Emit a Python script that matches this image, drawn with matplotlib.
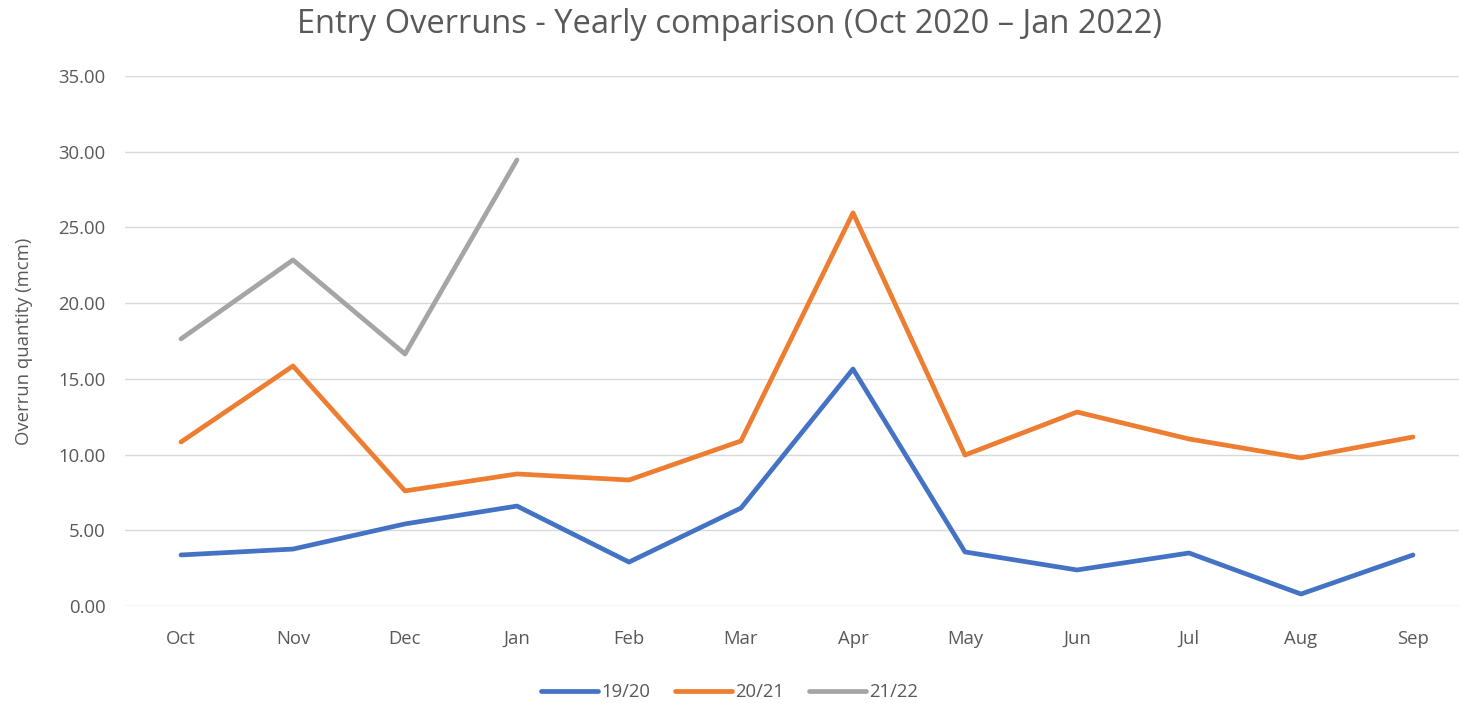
import matplotlib
matplotlib.use("Agg")
import matplotlib.pyplot as plt
from matplotlib.ticker import FormatStrFormatter

months = ["Oct", "Nov", "Dec", "Jan", "Feb", "Mar", "Apr", "May", "Jun", "Jul", "Aug", "Sep"]
y1920 = [3.37, 3.76, 5.42, 6.60, 2.90, 6.47, 15.65, 3.57, 2.38, 3.50, 0.79, 3.37]
y2021 = [10.83, 15.85, 7.60, 8.72, 8.32, 10.90, 25.96, 9.97, 12.81, 11.03, 9.78, 11.16]
y2122 = [17.64, 22.85, 16.64, 29.46]
series_names = ["19/20", "20/21", "21/22"]
colors = ["#4472C4", "#ED7D31", "#A5A5A5"]

text_col = "#595959"
plt.rcParams["font.family"] = ["Open Sans", "DejaVu Sans"]

fig = plt.figure(figsize=(14.59, 7.03), dpi=100)
ax = fig.add_axes([125 / 1459, 97 / 703, 1344 / 1459, 530 / 703])

x = list(range(len(months)))
for vals, name, col in zip([y1920, y2021, y2122], series_names, colors):
    ax.plot(x[:len(vals)], vals, color=col, lw=3.4, label=name,
            solid_joinstyle="round", solid_capstyle="round")

ax.set_xlim(-0.5, 11.5)
ax.set_ylim(0, 35)
ax.set_yticks([0, 5, 10, 15, 20, 25, 30, 35])
ax.yaxis.set_major_formatter(FormatStrFormatter("%.2f"))
ax.set_xticks(x)
ax.set_xticklabels(months)
ax.grid(axis="y", color="#D9D9D9", lw=1)
ax.set_axisbelow(True)
for s in ax.spines.values():
    s.set_visible(False)
ax.tick_params(length=0, labelsize=13.3, colors=text_col)
ax.tick_params(axis="x", pad=17)
ax.tick_params(axis="y", pad=14)
ax.set_ylabel("Overrun quantity (mcm)", fontsize=13.3, color=text_col, labelpad=18)

fig.suptitle("Entry Overruns - Yearly comparison (Oct 2020 \u2013 Jan 2022)",
             fontsize=23.5, color=text_col, y=0.988)
fig.legend(loc="lower center", ncol=3, frameon=False, fontsize=13.3,
           labelcolor=text_col, bbox_to_anchor=(0.5, -0.021),
           handlelength=3.1, handletextpad=0.2, columnspacing=1.3)

fig.savefig("out.png", dpi=100)
